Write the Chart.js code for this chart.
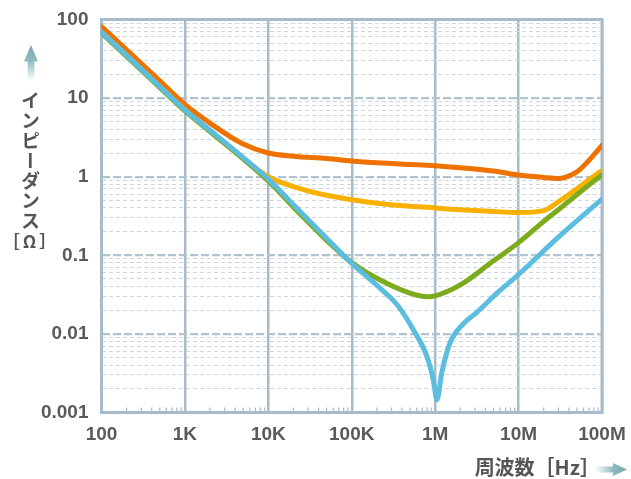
<!DOCTYPE html>
<html lang="ja">
<head>
<meta charset="utf-8">
<title>インピーダンス－周波数特性</title>
<script src="https://cdn.jsdelivr.net/npm/chart.js@4.4.1/dist/chart.umd.min.js"></script>
<style>
  html, body { margin: 0; padding: 0; background: #fff; }
  #wrap { position: relative; width: 631px; height: 479px; overflow: hidden; }
  #chart { position: absolute; left: 0; top: 0; }
  #yTitle {
    position: absolute; left: 21px; top: 91px;
    writing-mode: vertical-rl; text-orientation: upright;
    font-family: "Noto Sans CJK JP", sans-serif; font-weight: 700;
    font-size: 19px; line-height: 19px; letter-spacing: 1px; color: #555;
  }
  #yUnit {
    position: absolute; left: 0; top: 232px; width: 62px; text-align: center;
    font-family: "Noto Sans CJK JP", sans-serif; font-weight: 700;
    font-size: 17px; line-height: 18px; letter-spacing: 3px; color: #555;
  }
  #xTitle {
    position: absolute; right: 31px; top: 456px; white-space: nowrap;
    font-family: "Noto Sans CJK JP", sans-serif; font-weight: 700;
    font-size: 20px; line-height: 22px; color: #555;
  }
  .arrow { position: absolute; }
  #upArrow {
    left: 24px; top: 45px; width: 14px; height: 36px;
    clip-path: polygon(50% 0, 100% 46%, 74% 46%, 74% 100%, 26% 100%, 26% 46%, 0 46%);
    background: linear-gradient(to bottom, #74a9ae 0%, #8fbcc0 45%, #ffffff 100%);
  }
  #rightArrow {
    left: 595px; top: 463px; width: 32px; height: 13px;
    clip-path: polygon(0 27%, 56% 27%, 56% 0, 100% 50%, 56% 100%, 56% 73%, 0 73%);
    background: linear-gradient(to right, #ffffff 0%, #8fbcc0 55%, #74a9ae 100%);
  }
</style>
</head>
<body>
<div id="wrap">
  <canvas id="chart" width="631" height="479"></canvas>
  <div class="arrow" id="upArrow"></div>
  <div id="yTitle">インピーダンス</div>
  <div id="yUnit">［Ω］</div>
  <div id="xTitle">周波数［Hz］</div>
  <div class="arrow" id="rightArrow"></div>
</div>
<script>
// Axis ticks
const xTickValues = [1e2, 1e3, 1e4, 1e5, 1e6, 1e7, 1e8];
const xTickLabels = ['100', '1K', '10K', '100K', '1M', '10M', '100M'];
const yTickValues = [0.001, 0.01, 0.1, 1, 10, 100];
const yTickLabels = ['0.001', '0.01', '0.1', '1', '10', '100'];

// Frequencies (Hz) shared by the orange / yellow / green curves
const freqHz = [100, 200, 500, 1e3, 2e3, 5e3, 1e4, 2e4, 5e4, 1e5, 2e5, 5e5, 8e5,
                1e6, 2e6, 5e6, 1e7, 2e7, 3e7, 5e7, 7e7, 1e8];

// Impedance (ohm)
const orangeZ = [81, 41, 16.6, 8.3, 4.8, 2.6, 2.0, 1.82, 1.7, 1.58, 1.5, 1.43, 1.4,
                 1.38, 1.3, 1.18, 1.05, 0.98, 0.95, 1.15, 1.62, 2.5];
const yellowZ = [69, 35, 14, 7.1, 3.8, 1.72, 1.0, 0.75, 0.58, 0.51, 0.46, 0.42, 0.41,
                 0.40, 0.38, 0.36, 0.35, 0.37, 0.48, 0.70, 0.92, 1.2];
const greenZ  = [67, 34, 13.6, 6.9, 3.75, 1.68, 0.88, 0.41, 0.155, 0.081, 0.051, 0.033, 0.0297,
                 0.0305, 0.042, 0.085, 0.145, 0.27, 0.38, 0.59, 0.79, 1.05];

// Blue curve has a sharp resonance dip, so it gets its own frequency list
const blueFreqHz = [100, 200, 500, 1e3, 2e3, 5e3, 1e4, 2e4, 5e4, 1e5, 2.2e5, 3.5e5, 5.5e5,
                    8e5, 9.5e5, 1.05e6, 1.2e6, 1.5e6, 2.2e6, 3.2e6, 5.5e6, 1e7, 3e7, 1e8];
const blueZ = [69, 35, 14, 7.1, 3.9, 1.75, 0.93, 0.44, 0.165, 0.079, 0.038, 0.0235, 0.0112,
               0.0051, 0.0026, 0.00145, 0.0032, 0.0076, 0.0136, 0.019, 0.033, 0.057, 0.17, 0.52];

// Grid values: every 1..9 x 10^n on the y axis, minor ticks on the x axis
const yGridValues = [];
yTickValues.forEach((d, i) => {
  yGridValues.push(d);
  if (i < yTickValues.length - 1) for (let k = 2; k <= 9; k++) yGridValues.push(d * k);
});
const xMinorValues = [];
xTickValues.slice(0, -1).forEach(d => { for (let k = 2; k <= 9; k++) xMinorValues.push(d * k); });

const toPoints = (xs, ys) => xs.map((x, i) => ({ x, y: ys[i] }));

const GRID_MAJOR = '#a7bbca';
const GRID_H_MAJOR = '#b1c3cf';
const GRID_H_MINOR = '#cbd8e1';

const isDecade = v => yTickValues.includes(v);

function lineSet(label, data, color) {
  return {
    label, data,
    borderColor: color,
    backgroundColor: color,
    borderWidth: 5,
    pointRadius: 0,
    borderCapStyle: 'round',
    borderJoinStyle: 'round',
    cubicInterpolationMode: 'monotone',
    fill: false,
  };
}

// Frame + small minor ticks along the bottom edge
const framePlugin = {
  id: 'plotFrame',
  beforeDatasetsDraw(chart) {
    const { ctx, chartArea: a, scales: { x } } = chart;
    ctx.save();
    ctx.strokeStyle = GRID_MAJOR;
    ctx.lineWidth = 1.2;
    xMinorValues.forEach(v => {
      const px = x.getPixelForValue(v);
      ctx.beginPath();
      ctx.moveTo(px, a.bottom);
      ctx.lineTo(px, a.bottom - 5);
      ctx.stroke();
    });
    ctx.lineWidth = 3;
    ctx.strokeRect(a.left, a.top, a.right - a.left, a.bottom - a.top);
    ctx.restore();
  },
};

Chart.defaults.font.family = '"Liberation Sans", Arial, sans-serif';

new Chart(document.getElementById('chart'), {
  type: 'line',
  data: {
    datasets: [
      lineSet('blue', toPoints(blueFreqHz, blueZ), '#5cbddf'),
      lineSet('green', toPoints(freqHz, greenZ), '#7cab1d'),
      lineSet('yellow', toPoints(freqHz, yellowZ), '#f8b100'),
      lineSet('orange', toPoints(freqHz, orangeZ), '#ee7200'),
    ],
  },
  options: {
    responsive: false,
    animation: false,
    layout: { padding: { top: 19.5, right: 29, bottom: 0, left: 0 } },
    plugins: { legend: { display: false }, tooltip: { enabled: false } },
    scales: {
      x: {
        type: 'logarithmic',
        min: 100,
        max: 1e8,
        afterBuildTicks(s) { s.ticks = xTickValues.map(v => ({ value: v })); },
        afterFit(s) { s.height = 66.5; s.paddingLeft = 0; s.paddingRight = 0; },
        grid: { color: GRID_MAJOR, lineWidth: 2.5, drawTicks: false },
        border: { display: false },
        ticks: {
          autoSkip: false,
          maxRotation: 0,
          padding: 11,
          color: '#5a5a5a',
          font: { size: 19, weight: 'bold' },
          callback: (v, i) => xTickLabels[i] ?? '',
        },
      },
      y: {
        type: 'logarithmic',
        min: 0.001,
        max: 100,
        afterBuildTicks(s) { s.ticks = yGridValues.map(v => ({ value: v })); },
        afterFit(s) { s.width = 101.5; s.paddingTop = 0; s.paddingBottom = 0; },
        grid: {
          drawTicks: false,
          color: c => isDecade(c.tick?.value) ? GRID_H_MAJOR : GRID_H_MINOR,
          lineWidth: c => isDecade(c.tick?.value) ? 2.2 : 1,
        },
        border: {
          display: false,
          dash: c => isDecade(c.tick?.value) ? [8, 3] : [4, 3],
        },
        ticks: {
          autoSkip: false,
          padding: 13,
          color: '#5a5a5a',
          font: { size: 19, weight: 'bold' },
          callback: v => {
            const i = yTickValues.indexOf(v);
            return i >= 0 ? yTickLabels[i] : '';
          },
        },
      },
    },
  },
  plugins: [framePlugin],
});
</script>
</body>
</html>
